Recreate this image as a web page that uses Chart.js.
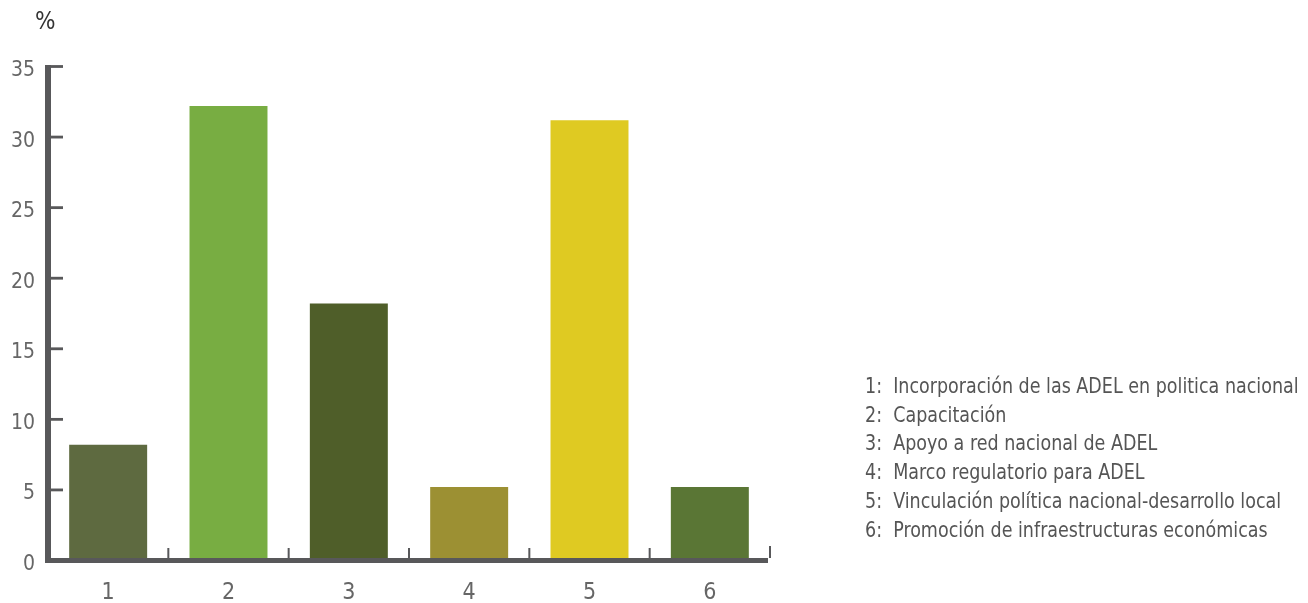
<!DOCTYPE html>
<html>
<head>
<meta charset="utf-8">
<script src="https://cdn.jsdelivr.net/npm/chart.js@4.4.1/dist/chart.umd.min.js"></script>
<style>
    html, body { margin: 0; padding: 0; background: #fff; }
    #wrap { position: relative; width: 1308px; height: 603px; overflow: hidden; }
    #chart { position: absolute; left: 0; top: 0; }
    .narrow { font-family: 'DejaVu Sans Condensed', 'Liberation Sans Narrow', 'Roboto', sans-serif; }
    #unit { position: absolute; left: 35px; top: 7px; font-size: 24px; color: #333; }
    #legend { position: absolute; left: 865px; top: 372px; font-size: 22px; line-height: 28.7px; color: #555;
              white-space: nowrap; transform: scaleX(0.885); transform-origin: 0 0; }
</style>
</head>
<body>
<div id="wrap">
    <canvas id="chart" width="1308" height="603"></canvas>
    <div id="unit" class="narrow">%</div>
    <div id="legend" class="narrow"></div>
</div>
<script>
const categories = ['1', '2', '3', '4', '5', '6'];
const shares = [8.2, 32.2, 18.2, 5.2, 31.2, 5.2];
const descriptions = [
    'Incorporación de las ADEL en politica nacional',
    'Capacitación',
    'Apoyo a red nacional de ADEL',
    'Marco regulatorio para ADEL',
    'Vinculación política nacional-desarrollo local',
    'Promoción de infraestructuras económicas'
];
const barColors = ['#5e6a40', '#78ad42', '#4f5e29', '#9c9033', '#dfca22', '#5a7635'];
const yMax = 35;
const yStep = 5;

const FONT = "'DejaVu Sans Condensed', 'Liberation Sans Narrow', 'Roboto', sans-serif";
const AXIS = '#58585a';

// legend as plain text lines
document.getElementById('legend').innerHTML =
    categories.map((c, i) => `<div>${c}:&nbsp; ${descriptions[i]}</div>`).join('');

// thick axis lines plus inward tick marks, drawn over the bars
const axisLines = {
    id: 'axisLines',
    afterDatasetsDraw(chart) {
        const { ctx, chartArea, scales: { x, y } } = chart;
        const left = chartArea.left, bottom = y.getPixelForValue(0), top = y.getPixelForValue(yMax);
        ctx.save();
        ctx.fillStyle = AXIS;
        // y axis
        ctx.fillRect(left - 3, top - 1.5, 6, bottom - top + 3);
        // y ticks pointing right
        for (let v = yStep; v <= yMax; v += yStep) {
            const py = y.getPixelForValue(v);
            ctx.fillRect(left, py - 1.4, 15, 2.8);
        }
        // x axis
        ctx.fillRect(left - 3, bottom - 2.5, chartArea.right - 2 - (left - 3), 5);
        // x tick marks at category boundaries, pointing up
        const half = (x.getPixelForTick(1) - x.getPixelForTick(0)) / 2;
        categories.forEach((c, i) => {
            const px = x.getPixelForTick(i) + half;
            const len = i === categories.length - 1 ? 12 : 10;
            ctx.fillRect(px - 1, bottom - 2.5 - len, 2, len);
        });
        ctx.restore();
    }
};

new Chart(document.getElementById('chart'), {
    type: 'bar',
    data: {
        labels: categories,
        datasets: [{
            data: shares,
            backgroundColor: barColors,
            borderWidth: 0,
            categoryPercentage: 1,
            barPercentage: 0.648
        }]
    },
    options: {
        responsive: false,
        animation: false,
        layout: { padding: { left: 0, top: 66.5, right: 538, bottom: 0 } },
        plugins: { legend: { display: false }, tooltip: { enabled: false } },
        scales: {
            x: {
                offset: true,
                grid: { display: false },
                border: { display: false },
                ticks: { color: '#666', padding: 11, font: { family: FONT, size: 23 } },
                afterFit: s => { s.height = 42.5; }
            },
            y: {
                min: 0,
                max: yMax,
                grid: { display: false },
                border: { display: false },
                ticks: { stepSize: yStep, color: '#666', padding: 5, labelOffset: 4, font: { family: FONT, size: 21 } },
                afterFit: s => { s.width = 48; }
            }
        }
    },
    plugins: [axisLines]
});
</script>
</body>
</html>
